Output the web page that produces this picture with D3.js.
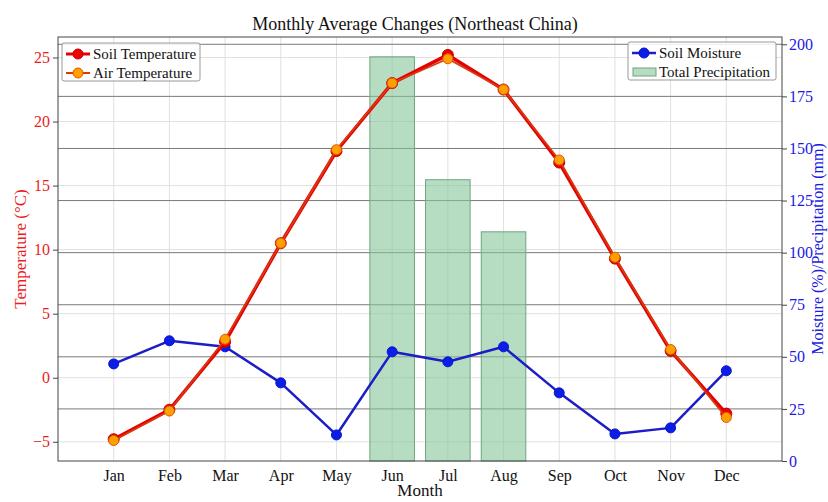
<!DOCTYPE html>
<html><head><meta charset="utf-8">
<script src="https://cdn.jsdelivr.net/npm/d3@7"></script>
<style>body{margin:0;background:#fff}svg{display:block}text{font-family:"Liberation Serif","Times New Roman",serif}</style>
</head><body><svg id="c" width="828" height="502"></svg>
<script>
const months = ["Jan","Feb","Mar","Apr","May","Jun","Jul","Aug","Sep","Oct","Nov","Dec"];
const soilTemp = [-4.8, -2.5, 2.8, 10.5, 17.7, 23.0, 25.2, 22.5, 16.8, 9.3, 2.1, -2.8];
const airTemp  = [-4.9, -2.6, 3.0, 10.5, 17.8, 23.0, 24.9, 22.5, 17.0, 9.4, 2.2, -3.1];
const soilMoisture = [46.6, 57.7, 54.8, 37.5, 12.5, 52.4, 47.6, 54.8, 32.7, 13.0, 15.9, 43.3];
const precipitation = [0, 0, 0, 0, 0, 194, 135, 110, 0, 0, 0, 0];
const leftTicks = [-5, 0, 5, 10, 15, 20, 25];
const rightTicks = [0, 25, 50, 75, 100, 125, 150, 175, 200];

const svg = d3.select("#c");
const L = 58, R = 782, T = 37, B = 461;
const x = d3.scaleLinear().domain([-1, 12]).range([L, R]);
const yL = d3.scaleLinear().domain([-6.5, 26.6]).range([B, T]);
const yR = d3.scaleLinear().domain([0, 203.5]).range([B, T]);
const bw = (x(1) - x(0)) * 0.8;

// light grid
const g = svg.append("g");
g.selectAll(".vg").data(months).join("line")
  .attr("x1", (d,i)=>x(i)).attr("x2", (d,i)=>x(i)).attr("y1", T).attr("y2", B)
  .attr("stroke", "#e0e0e0").attr("stroke-width", 1);
g.selectAll(".hg").data(leftTicks).join("line")
  .attr("x1", L).attr("x2", R).attr("y1", d=>yL(d)).attr("y2", d=>yL(d))
  .attr("stroke", "#e0e0e0").attr("stroke-width", 1);
// dark grid (right axis)
g.selectAll(".hg2").data(rightTicks.filter(d=>d>0)).join("line")
  .attr("x1", L).attr("x2", R).attr("y1", d=>yR(d)).attr("y2", d=>yR(d))
  .attr("stroke", "#7a7a7a").attr("stroke-width", 1);

// bars
svg.append("g").selectAll("rect").data(precipitation.map((v,i)=>({v,i})).filter(d=>d.v>0)).join("rect")
  .attr("x", d=>x(d.i)-bw/2).attr("width", bw)
  .attr("y", d=>yR(d.v)).attr("height", d=>yR(0)-yR(d.v))
  .attr("fill", "#86c79a").attr("fill-opacity", 0.6)
  .attr("stroke", "#6fa47f").attr("stroke-width", 1);

// frame
svg.append("rect").attr("x", L).attr("y", T).attr("width", R-L).attr("height", B-T)
  .attr("fill", "none").attr("stroke", "#444").attr("stroke-width", 1);

// lines
function series(data, yS, color, lw, mfill, mstroke, r) {
  const line = d3.line().x((d,i)=>x(i)).y(d=>yS(d));
  const gg = svg.append("g");
  gg.append("path").datum(data).attr("d", line).attr("fill", "none")
    .attr("stroke", color).attr("stroke-width", lw).attr("stroke-linejoin", "round");
  gg.selectAll("circle").data(data).join("circle")
    .attr("cx", (d,i)=>x(i)).attr("cy", d=>yS(d)).attr("r", r)
    .attr("fill", mfill).attr("stroke", mstroke).attr("stroke-width", 1);
}
series(soilMoisture, yR, "#1c1cc8", 2.5, "#0a1ee6", "#0a14c8", 5);
series(soilTemp, yL, "#e60000", 3.5, "#f00000", "#c00000", 5.5);
series(airTemp, yL, "#d83a10", 1.8, "#ffa000", "#e05a00", 5);

// axes
const axL = d3.axisLeft(yL).tickValues(leftTicks).tickSize(5).tickPadding(3);
const gL = svg.append("g").attr("transform", `translate(${L},0)`).call(axL);
gL.select(".domain").remove();
gL.selectAll("line").attr("stroke", "#444");
gL.selectAll("text").attr("fill", "#ee1c1c").style("font-size", "16px").style("font-family", "Liberation Serif");

const axR = d3.axisRight(yR).tickValues(rightTicks).tickSize(5).tickPadding(2);
const gR = svg.append("g").attr("transform", `translate(${R},0)`).call(axR);
gR.select(".domain").remove();
gR.selectAll("line").attr("stroke", "#444");
gR.selectAll("text").attr("fill", "#1a1ae6").style("font-size", "16px").style("font-family", "Liberation Serif");

const axB = d3.axisBottom(x).tickValues(d3.range(12)).tickFormat(i=>months[i]).tickSize(0).tickPadding(9);
const gB = svg.append("g").attr("transform", `translate(0,${B})`).call(axB);
gB.select(".domain").remove();
gB.selectAll("text").attr("fill", "#111").style("font-size", "16px").style("font-family", "Liberation Serif");

// labels
svg.append("text").attr("x", 415).attr("y", 30).attr("text-anchor", "middle")
  .style("font-size", "18px").attr("fill", "#111").text("Monthly Average Changes (Northeast China)");
svg.append("text").attr("x", 420).attr("y", 496).attr("text-anchor", "middle")
  .style("font-size", "17px").attr("fill", "#111").text("Month");
svg.append("text").attr("transform", `translate(26,${(T+B)/2}) rotate(-90)`).attr("text-anchor", "middle")
  .style("font-size", "17px").attr("fill", "#ee1c1c").text("Temperature (°C)");
svg.append("text").attr("transform", `translate(823,${(T+B)/2}) rotate(-90)`).attr("text-anchor", "middle")
  .style("font-size", "16px").attr("fill", "#1a1ae6").text("Moisture (%)/Precipitation (mm)");

// legends
function legend(x0, y0, w, h, items) {
  const lg = svg.append("g");
  lg.append("rect").attr("x", x0).attr("y", y0).attr("width", w).attr("height", h).attr("rx", 2)
    .attr("fill", "#fff").attr("fill-opacity", 0.85).attr("stroke", "#999");
  items.forEach((it, k) => {
    const cy = y0 + 11 + k*19;
    if (it.type === "line") {
      lg.append("line").attr("x1", x0+4).attr("x2", x0+28).attr("y1", cy).attr("y2", cy)
        .attr("stroke", it.color).attr("stroke-width", it.lw);
      lg.append("circle").attr("cx", x0+16).attr("cy", cy).attr("r", 5)
        .attr("fill", it.mfill).attr("stroke", it.mstroke);
    } else {
      lg.append("rect").attr("x", x0+5).attr("y", cy-4).attr("width", 23).attr("height", 8)
        .attr("fill", "#86c79a").attr("fill-opacity", 0.6).attr("stroke", "#6fa47f");
    }
    lg.append("text").attr("x", x0+31).attr("y", cy+5).style("font-size", "15px").attr("fill", "#111").text(it.label);
  });
}
legend(62, 43, 138, 38, [
  {type:"line", color:"#e60000", lw:3, mfill:"#f00000", mstroke:"#c00000", label:"Soil Temperature"},
  {type:"line", color:"#d83a10", lw:2, mfill:"#ffa000", mstroke:"#e05a00", label:"Air Temperature"}
]);
legend(628, 42, 148, 38, [
  {type:"line", color:"#1c1cc8", lw:2.5, mfill:"#0a1ee6", mstroke:"#0a14c8", label:"Soil Moisture"},
  {type:"patch", label:"Total Precipitation"}
]);
</script></body></html>
